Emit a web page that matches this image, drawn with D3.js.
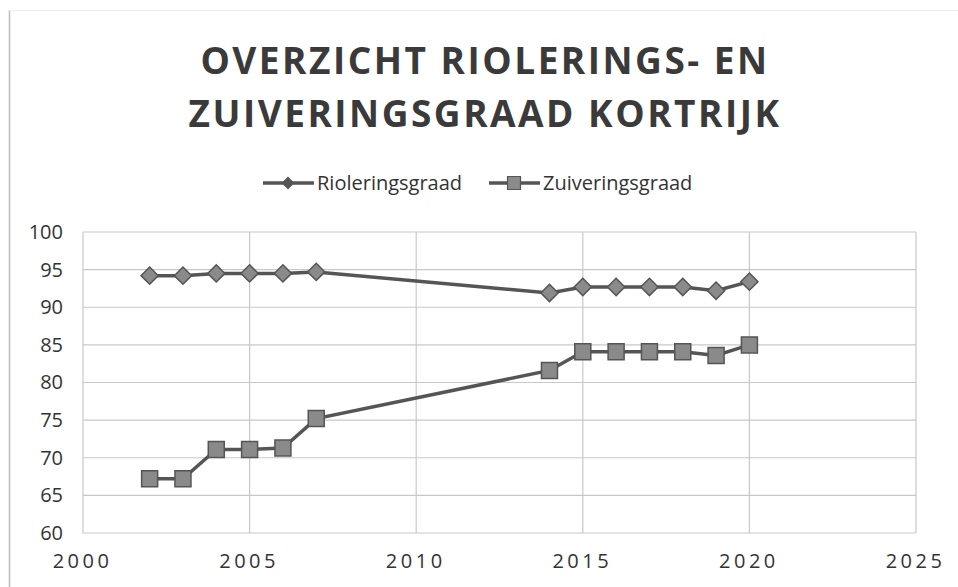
<!DOCTYPE html>
<html>
<head>
<meta charset="utf-8">
<title>Riolering en zuivering Kortrijk</title>
<script src="https://d3js.org/d3.v7.min.js"></script>
<style>
  body { margin: 0; background: #fff; }
  text { font-family: "Open Sans", "Noto Sans", sans-serif; }
</style>
</head>
<body>
<svg width="958" height="587"></svg>
<script>
// data
const years = [2002, 2003, 2004, 2005, 2006, 2007, 2014, 2015, 2016, 2017, 2018, 2019, 2020];
const riolering = [94.2, 94.2, 94.5, 94.5, 94.5, 94.7, 91.9, 92.7, 92.7, 92.7, 92.7, 92.2, 93.4];
const zuivering = [67.2, 67.2, 71.1, 71.1, 71.3, 75.2, 81.6, 84.1, 84.1, 84.1, 84.1, 83.6, 85.0];
const xTicks = [2000, 2005, 2010, 2015, 2020, 2025];
const yTicks = [60, 65, 70, 75, 80, 85, 90, 95, 100];
const titleLines = ["OVERZICHT RIOLERINGS- EN", "ZUIVERINGSGRAAD KORTRIJK"];
const seriesNames = ["Rioleringsgraad", "Zuiveringsgraad"];

const svg = d3.select("svg"),
    width = +svg.attr("width"),
    height = +svg.attr("height");

const lineColor = "#555",
    markFill = "#8a8a8a",
    gridColor = "#c8c8c8";

// scan-like border on the left / top
svg.append("line").attr("x1", 9.5).attr("x2", 9.5).attr("y1", 10).attr("y2", height)
    .attr("stroke", "#bbb").attr("stroke-width", 1.5);
svg.append("line").attr("x1", 9).attr("x2", width).attr("y1", 10.5).attr("y2", 10.5)
    .attr("stroke", "#eee").attr("stroke-width", 1);

// title
svg.append("g").selectAll("text").data(titleLines).join("text")
    .attr("x", 485)
    .attr("y", (d, i) => 74 + i * 53)
    .attr("text-anchor", "middle")
    .attr("font-size", 37)
    .attr("font-weight", 700)
    .attr("letter-spacing", 2.5)
    .attr("fill", "#3a3a3a")
    .text(d => d);

const x = d3.scaleLinear().domain([2000, 2025]).range([83, 916]);
const y = d3.scaleLinear().domain([60, 100]).range([533, 232]);

// grid
const grid = svg.append("g");
grid.selectAll(".hg").data(yTicks).join("line")
    .attr("x1", x(2000)).attr("x2", x(2025))
    .attr("y1", d => y(d)).attr("y2", d => y(d))
    .attr("stroke", gridColor).attr("stroke-width", 1.2);
grid.selectAll(".vg").data(xTicks).join("line")
    .attr("y1", y(100)).attr("y2", y(60))
    .attr("x1", d => x(d)).attr("x2", d => x(d))
    .attr("stroke", gridColor).attr("stroke-width", 1.2);

// axes (labels only)
const yAxis = svg.append("g").attr("transform", `translate(${x(2000)},0)`)
    .call(d3.axisLeft(y).tickValues(yTicks).tickSize(0).tickPadding(20));
yAxis.select(".domain").remove();
yAxis.selectAll("text")
    .attr("font-family", "'Open Sans', sans-serif")
    .attr("font-size", 20).attr("fill", "#333");

const xAxis = svg.append("g").attr("transform", `translate(0,${y(60)})`)
    .call(d3.axisBottom(x).tickValues(xTicks).tickFormat(d3.format("d")).tickSize(0).tickPadding(21));
xAxis.select(".domain").remove();
xAxis.selectAll("text")
    .attr("font-family", "'Open Sans', sans-serif")
    .attr("font-size", 20).attr("letter-spacing", 3.5).attr("fill", "#333")
    .attr("dx", -1);

// series
const line = d3.line().x(d => x(d[0])).y(d => y(d[1]));
const rData = years.map((yr, i) => [yr, riolering[i]]);
const zData = years.map((yr, i) => [yr, zuivering[i]]);

const diamond = d3.symbol().type(d3.symbolDiamond2).size(190);

function drawSeries(data, shape) {
    const g = svg.append("g");
    g.append("path").datum(data).attr("d", line)
        .attr("fill", "none").attr("stroke", lineColor).attr("stroke-width", 3.5);
    const marks = g.selectAll("path.m").data(data).join("path")
        .attr("class", "m")
        .attr("transform", d => `translate(${x(d[0])},${y(d[1])})`)
        .attr("fill", markFill).attr("stroke", lineColor).attr("stroke-width", 1.5);
    if (shape === "diamond") marks.attr("d", diamond);
    else marks.attr("d", "M-8,-8H8V8H-8Z");
}
drawSeries(rData, "diamond");
drawSeries(zData, "square");

// legend
const legend = svg.append("g").attr("transform", "translate(0,183)");
const legX = [263, 489];
seriesNames.forEach((name, i) => {
    const g = legend.append("g").attr("transform", `translate(${legX[i]},0)`);
    g.append("line").attr("x1", 0).attr("x2", 51).attr("stroke", lineColor).attr("stroke-width", 3.5);
    g.append("path")
        .attr("transform", "translate(25,0)")
        .attr("d", i === 0 ? d3.symbol().type(d3.symbolDiamond2).size(80)() : "M-6.5,-6.5H6.5V6.5H-6.5Z")
        .attr("fill", i === 0 ? lineColor : markFill).attr("stroke", lineColor).attr("stroke-width", 1.2);
    g.append("text").attr("x", 54).attr("y", 7)
        .attr("font-size", 20).attr("fill", "#333").text(name);
});
</script>
</body>
</html>
